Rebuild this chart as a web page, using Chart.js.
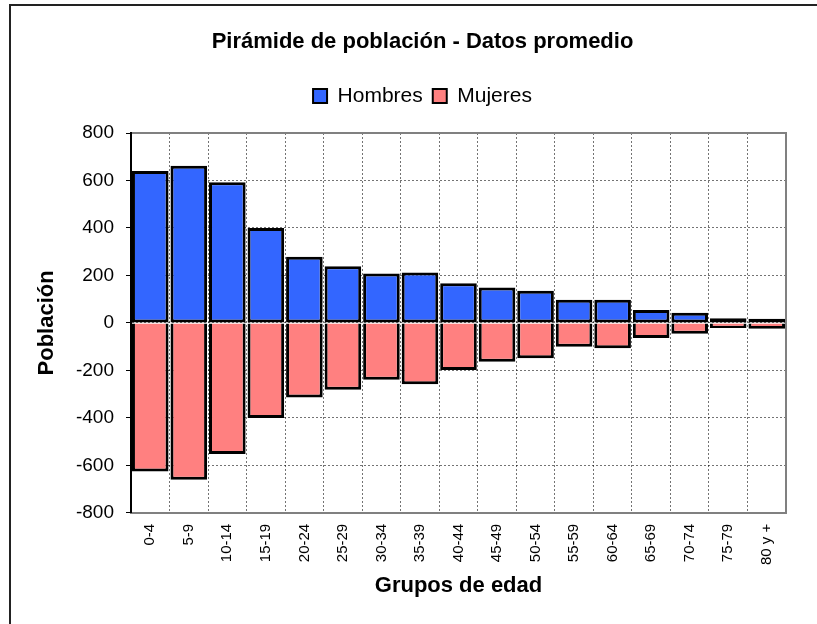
<!DOCTYPE html>
<html><head><meta charset="utf-8">
<script src="https://cdn.jsdelivr.net/npm/chart.js@4/dist/chart.umd.min.js"></script>
<style>
html,body{margin:0;padding:0;background:#fff;}
#wrap{position:relative;width:817px;height:624px;overflow:hidden;}
#frame{position:absolute;left:9px;top:4px;width:900px;height:700px;border:2px solid #222;box-sizing:border-box;}
canvas{position:absolute;left:0;top:0;}
</style></head><body>
<div id="wrap"><div id="frame"></div><canvas id="c" width="817" height="624"></canvas></div>
<script>
const categories = ['0-4','5-9','10-14','15-19','20-24','25-29','30-34','35-39','40-44','45-49','50-54','55-59','60-64','65-69','70-74','75-79','80 y +'];
const hombres = [640, 662, 592, 400, 279, 239, 208, 212, 167, 149, 135, 97, 97, 54, 43, 20, 18];
const mujeres = [-626, -661, -552, -401, -314, -282, -240, -258, -198, -164, -149, -100, -107, -64, -46, -22, -25];
const yMin = -800, yMax = 800, yStep = 200;

Chart.defaults.font.family = "'Liberation Sans', Arial, sans-serif";
Chart.defaults.color = '#000';

new Chart(document.getElementById('c'), {
  type: 'bar',
  data: {
    labels: categories,
    datasets: [
      {label: 'Hombres', data: hombres, xAxisID: 'x', yAxisID: 'y',
       backgroundColor: '#3366FF', borderColor: '#000', borderWidth: 3, borderSkipped: false,
       barPercentage: 0.95, categoryPercentage: 1},
      {label: 'Mujeres', data: mujeres, xAxisID: 'x', yAxisID: 'y',
       backgroundColor: '#FF8080', borderColor: '#000', borderWidth: 3, borderSkipped: 'start',
       barPercentage: 0.95, categoryPercentage: 1}
    ]
  },
  options: {
    responsive: false, animation: false, devicePixelRatio: 1,
    layout: {padding: {left: 52, right: 24, top: 0, bottom: 21}},
    plugins: {
      title: {display: true, text: 'Pirámide de población - Datos promedio',
        font: {size: 22, weight: 'bold'}, color: '#000', padding: {top: 28.8, bottom: 20.3}},
      legend: {display: true, labels: {boxWidth: 14, boxHeight: 14, font: {size: 21}, color: '#000', padding: 10,
        generateLabels(chart) {
          const items = Chart.defaults.plugins.legend.labels.generateLabels(chart);
          items.forEach(i => { i.lineWidth = 2; });
          return items;
        }}},
      tooltip: {enabled: false}
    },
    scales: {
      x: {
        stacked: true, position: 'bottom',
        grid: {display: true, offset: true, color: 'rgba(0,0,0,0.55)', lineWidth: 1, drawTicks: false},
        border: {display: true, color: '#808080', width: 2, dash: [2, 2]},
        ticks: {autoSkip: false, minRotation: 90, maxRotation: 90, padding: 11, font: {size: 15}, color: '#000'},
        title: {display: true, text: 'Grupos de edad', font: {size: 22, weight: 'bold'}, color: '#000', padding: {top: 4, bottom: 4}},
        afterFit(s) { s.height = 90.2; }
      },
      x2: {
        type: 'category', labels: categories, position: 'top', offset: true,
        grid: {display: true, drawOnChartArea: false, drawTicks: false, color: 'rgba(0,0,0,0)'},
        border: {display: true, color: '#808080', width: 2},
        ticks: {display: false},
        afterFit(s) { s.height = 16.5; }
      },
      y: {
        stacked: true, position: 'left', min: yMin, max: yMax,
        ticks: {stepSize: yStep, padding: 12, font: {size: 19}, color: '#000'},
        grid: {display: true, color: 'rgba(0,0,0,0.55)', lineWidth: 1, tickColor: '#000', tickLength: 5, tickWidth: 1, tickBorderDash: []},
        border: {display: true, color: '#000', width: 2, dash: [2, 2]},
        title: {display: true, text: 'Población', font: {size: 22, weight: 'bold'}, color: '#000', padding: {top: -18.2, bottom: 0}},
        afterFit(s) { s.width = 79; }
      },
      y2: {
        type: 'linear', position: 'right',
        grid: {display: true, drawOnChartArea: false, drawTicks: false, color: 'rgba(0,0,0,0)'},
        border: {display: true, color: '#808080', width: 2},
        ticks: {display: false},
        afterFit(s) { s.width = 7; }
      }
    }
  }
});
</script>
</body></html>
